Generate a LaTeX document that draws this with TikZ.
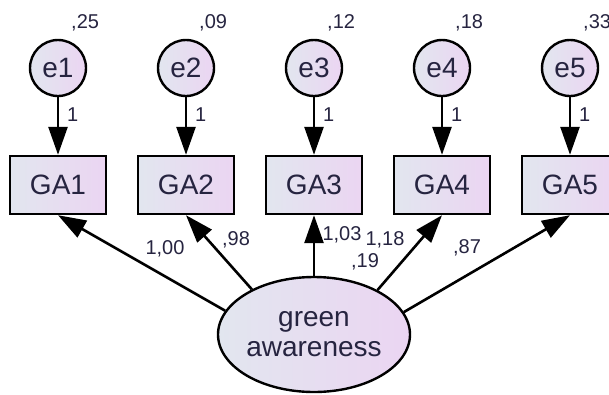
\documentclass[tikz,border=0pt]{standalone}
\usepackage{fontspec}
\setmainfont{Liberation Sans}
\usetikzlibrary{arrows.meta,shapes.geometric}
\definecolor{fillL}{HTML}{E2E6EF}
\definecolor{fillR}{HTML}{EBD5F2}
\definecolor{txt}{HTML}{262440}
\tikzset{
  errc/.style={circle,draw=black,line width=2.4pt,minimum size=56pt,inner sep=0pt,left color=fillL,right color=fillR,text=txt,font=\fontsize{28}{31}\selectfont},
  obs/.style={rectangle,draw=black,line width=2.4pt,minimum width=96pt,minimum height=58pt,inner sep=0pt,left color=fillL,right color=fillR,text=txt,font=\fontsize{28}{31}\selectfont},
  lat/.style={ellipse,draw=black,line width=2.4pt,minimum width=192pt,minimum height=115pt,inner sep=0pt,left color=fillL,right color=fillR,text=txt,align=center,font=\fontsize{28}{30}\selectfont},
  num/.style={text=txt,font=\fontsize{20}{22}\selectfont,inner sep=0pt},
  path/.style={line width=2.6pt,-{Triangle[length=28pt,width=19pt]}},
}
\begin{document}
\begin{tikzpicture}[x=1pt,y=-1pt]
\useasboundingbox (0,0) rectangle (609,394);
\clip (0,0) rectangle (609,394);
\foreach \i/\v in {1/{,25},2/{,09},3/{,12},4/{,18},5/{,33}}{
  \pgfmathsetmacro{\xx}{58+128*(\i-1)}
  \node[errc] (e\i) at (\xx,68) {e\i};
  \node[obs] (GA\i) at (\xx,185) {GA\i};
  \node[num,anchor=base west] (v\i) at (\xx+13,28) {\v};
  \draw[path] (e\i) -- (GA\i);
  \node[num,anchor=base west] (w\i) at (\xx+9,121) {1};
}
\node[lat] (g) at (314,334.5) {green\\awareness};
\draw[path] (g.165.6) -- (GA1.south);
\draw[path] (g.144.9) -- (GA2.south);
\draw[path] (g.north) -- (GA3.south);
\draw[path] (g.35.1) -- (GA4.south);
\draw[path] (g.14.4) -- (GA5.south);
\node[num,anchor=base] (l1) at (165,254) {1,00};
\node[num,anchor=base] (l2) at (236,245) {,98};
\node[num,anchor=base] (l3) at (342,240) {1,03};
\node[num,anchor=base] (l4) at (385,245) {1,18};
\node[num,anchor=base] (r) at (365,267) {,19};
\node[num,anchor=base] (l5) at (467,253) {,87};
\end{tikzpicture}
\end{document}
